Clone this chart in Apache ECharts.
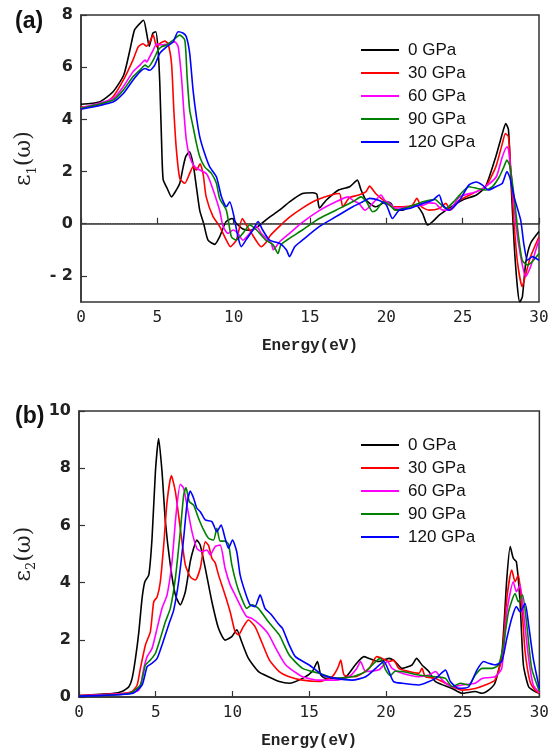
<!DOCTYPE html>
<html>
<head>
<meta charset="utf-8">
<script src="https://cdn.jsdelivr.net/npm/echarts@6/dist/echarts.min.js"></script>
<style>
  html, body { margin: 0; padding: 0; background: #fff; }
</style>
</head>
<body>
<div id="chart" style="width:552px;height:750px;"></div>
<script>
// series names / colours
var pressures = ['0 GPa', '30 GPa', '60 GPa', '90 GPa', '120 GPa'];
var colors = ['#000000', '#ff0000', '#ff00ff', '#008000', '#0000ff'];

var xTicks = [0, 5, 10, 15, 20, 25, 30];
var yTicksA = [-2, 0, 2, 4, 6, 8];
var yTicksB = [0, 2, 4, 6, 8, 10];

// (a) real part eps1, [energy eV, value]
var eps1_0 = [[0,4.58],[1.2,4.67],[2.1,5.06],[2.8,5.7],[3.2,6.65],[3.5,7.42],[3.8,7.64],[4.1,7.8],[4.3,7.3],[4.47,6.8],[4.7,7.3],[4.9,7.36],[5.05,6.65],[5.16,5.4],[5.27,3.3],[5.38,1.7],[5.65,1.35],[5.93,1.03],[6.25,1.3],[6.47,1.55],[6.7,2.2],[6.86,2.57],[7.1,2.76],[7.34,2.3],[7.56,1.4],[7.78,0.5],[8.04,0],[8.32,-0.63],[8.76,-0.79],[9.08,-0.5],[9.5,0.08],[9.9,0.2],[10.2,0.0],[10.6,-0.2],[11.1,-0.25],[11.6,-0.1],[12.1,0.14],[12.4,0.27],[13.0,0.52],[13.66,0.84],[14.5,1.16],[15.2,1.19],[15.45,1.13],[15.62,0.6],[16.06,0.9],[16.9,1.3],[17.6,1.42],[18.1,1.67],[18.34,1.3],[18.67,0.91],[19.3,0.65],[20.0,0.84],[20.3,0.78],[20.6,0.52],[21.07,0.52],[21.5,0.65],[21.94,0.71],[22.37,0.4],[22.7,-0.05],[23.03,0.08],[23.46,0.33],[24.1,0.59],[25.0,0.91],[25.9,1.1],[26.5,1.42],[27.17,2.57],[27.6,3.46],[27.82,3.84],[28.0,3.6],[28.15,1.8],[28.37,-0.75],[28.58,-2.4],[28.74,-3.0],[28.91,-2.8],[29.13,-1.5],[29.45,-0.75],[30,-0.3]];
var eps1_30 = [[0,4.47],[1.3,4.55],[2.1,4.87],[2.77,5.5],[3.4,6.27],[3.75,6.78],[4.07,6.9],[4.29,6.8],[4.5,6.97],[4.73,7.23],[4.95,6.78],[5.16,6.9],[5.49,7.0],[5.7,6.9],[5.93,6.14],[6.08,4.36],[6.25,2.82],[6.47,1.74],[6.8,1.55],[7.12,1.93],[7.34,2.18],[7.56,2.06],[7.8,2.3],[8.0,1.9],[8.2,1.03],[8.65,0.27],[9.08,-0.1],[9.52,-0.63],[9.78,-0.88],[10.17,-0.63],[10.57,0.2],[10.83,-0.05],[11.26,-0.45],[11.8,-0.88],[12.14,-0.7],[12.4,-0.45],[13.0,-0.1],[13.66,0.25],[14.5,0.6],[15.4,0.9],[16.5,1.12],[16.93,1.16],[17.15,0.65],[17.58,1.0],[18.2,1.1],[18.67,1.23],[18.9,1.44],[19.3,1.16],[19.8,0.9],[20.4,0.65],[21.07,0.65],[21.7,0.71],[22.0,0.97],[22.3,0.65],[22.8,0.52],[23.46,0.58],[23.9,0.78],[24.2,0.52],[24.8,0.9],[25.9,1.23],[26.5,1.42],[27.17,2.18],[27.6,3.08],[27.8,3.46],[28.0,3.33],[28.15,2.06],[28.37,0],[28.6,-1.52],[28.9,-2.41],[29.1,-2.0],[29.45,-1.26],[30,-0.5]];
var eps1_60 = [[0,4.44],[2.1,4.8],[2.77,5.25],[3.4,5.82],[3.86,6.08],[4.2,6.27],[4.3,6.2],[4.5,6.4],[4.73,6.65],[4.95,6.9],[5.16,6.85],[5.6,6.88],[6.14,6.97],[6.36,6.8],[6.58,5.63],[6.73,4.36],[6.9,3.2],[7.12,2.57],[7.45,2.18],[7.78,2.06],[8.2,1.93],[8.43,1.67],[9.08,0.52],[9.3,-0.1],[9.63,-0.37],[9.96,-0.24],[10.28,-0.37],[10.6,-0.63],[11.05,-0.37],[11.5,-0.1],[11.8,-0.37],[12.46,-0.75],[12.6,-1.0],[13.0,-0.7],[13.66,-0.37],[14.5,0.05],[15.6,0.5],[16.7,0.84],[17.5,1.03],[17.8,0.9],[18.2,0.78],[18.6,0.52],[18.9,0.65],[19.3,0.9],[19.65,1.1],[19.9,0.9],[20.2,0.78],[20.6,0.59],[21.5,0.65],[22.4,0.71],[22.8,0.8],[23.2,0.78],[23.7,0.52],[24.1,0.52],[24.8,1.03],[25.9,1.23],[26.5,1.42],[27.2,1.8],[27.6,2.57],[27.9,2.95],[28.0,2.85],[28.26,1.42],[28.5,-0.1],[28.8,-1.26],[29.13,-2.03],[29.45,-1.65],[30,-0.6]];
var eps1_90 = [[0,4.42],[2.1,4.74],[2.77,5.12],[3.4,5.63],[3.86,5.89],[4.2,6.08],[4.4,6.0],[4.73,6.27],[5.05,6.65],[5.27,6.78],[5.6,6.85],[6.04,7.04],[6.47,7.23],[6.8,7.04],[6.95,5.63],[7.12,4.36],[7.34,3.72],[7.56,3.08],[7.78,2.57],[8.1,2.18],[8.54,1.93],[8.87,1.55],[9.08,0.97],[9.52,0.52],[9.85,-0.5],[10.17,-0.63],[10.6,-0.37],[11.05,-0.05],[11.5,-0.24],[12.1,-0.63],[12.57,-0.8],[12.9,-1.14],[13.1,-0.8],[13.66,-0.56],[14.5,-0.24],[15.6,0.2],[16.7,0.52],[17.8,0.84],[18.34,1.03],[18.7,0.84],[19.1,0.46],[19.35,0.52],[19.8,0.84],[20.2,0.72],[20.6,0.52],[21.5,0.65],[22.4,0.84],[23.2,0.93],[23.5,0.78],[23.9,0.59],[24.5,0.9],[25.4,1.42],[25.9,1.36],[26.5,1.29],[26.95,1.42],[27.4,1.8],[27.7,2.18],[27.9,2.44],[28.1,2.2],[28.37,1.03],[28.66,-0.5],[28.9,-1.4],[29.24,-1.58],[29.56,-1.45],[30,-1.14]];
var eps1_120 = [[0,4.39],[2.1,4.67],[2.77,4.99],[3.4,5.5],[3.86,5.82],[4.2,5.95],[4.5,5.88],[4.83,6.08],[5.16,6.53],[5.6,6.78],[6.04,6.97],[6.36,7.36],[6.7,7.3],[6.9,7.17],[7.12,6.53],[7.34,5.12],[7.56,4.1],[7.78,3.33],[8.1,2.69],[8.43,2.18],[8.87,1.8],[9.2,1.03],[9.52,0.65],[9.74,0.84],[10.0,0.33],[10.28,-0.5],[10.5,-0.88],[10.8,-0.63],[11.26,-0.24],[11.6,0.08],[11.9,-0.24],[12.35,-0.63],[13.0,-0.75],[13.45,-1.0],[13.66,-1.26],[14.0,-0.88],[14.5,-0.63],[15.6,-0.11],[16.7,0.27],[17.8,0.65],[18.45,0.84],[18.9,0.97],[19.5,0.9],[20.0,0.72],[20.4,0.2],[20.85,0.52],[21.5,0.58],[22.4,0.78],[23.03,0.9],[23.46,1.1],[23.7,0.72],[24.1,0.52],[24.8,0.9],[25.4,1.48],[25.9,1.6],[26.3,1.48],[26.7,1.29],[27.17,1.42],[27.6,1.55],[27.9,2.0],[28.1,1.75],[28.37,1.03],[28.8,0.14],[29.0,-0.75],[29.24,-1.4],[29.56,-1.26],[30,-1.4]];

// (b) imaginary part eps2
var eps2_0 = [[0,0.05],[2.16,0.12],[2.8,0.19],[3.25,0.36],[3.46,0.65],[3.68,1.35],[3.9,2.28],[4.11,3.45],[4.29,4.03],[4.55,4.27],[4.76,5.55],[4.98,7.88],[5.19,9.04],[5.41,7.88],[5.63,6.13],[5.95,4.62],[6.28,3.57],[6.6,3.22],[6.93,3.68],[7.25,4.73],[7.47,5.2],[7.68,5.49],[7.9,5.31],[8.23,4.5],[8.66,3.33],[9.09,2.4],[9.52,1.99],[9.96,2.11],[10.28,2.35],[10.6,1.93],[11.04,1.35],[11.7,0.89],[12.34,0.71],[13.05,0.54],[13.7,0.48],[14.57,0.65],[15.2,0.89],[15.54,1.24],[15.75,0.77],[16.08,0.65],[16.73,0.65],[17.4,0.71],[18.0,1.12],[18.57,1.41],[18.9,1.35],[19.5,1.24],[20.2,1.35],[20.6,1.24],[21.06,1.0],[21.7,1.12],[22.0,1.35],[22.35,1.12],[22.8,0.89],[23.23,0.54],[24.31,0.3],[24.96,0.13],[25.82,0.19],[26.26,0.13],[26.69,0.24],[27.1,0.48],[27.55,1.47],[27.88,4.15],[28.1,5.26],[28.3,4.85],[28.5,4.73],[28.74,3.33],[28.96,1.12],[29.3,0.36],[29.72,0.19],[30,0.13]];
var eps2_30 = [[0,0.05],[2.8,0.12],[3.46,0.19],[3.79,0.42],[4.0,1.0],[4.33,1.82],[4.65,2.28],[4.87,3.33],[5.09,3.5],[5.3,4.03],[5.52,5.31],[5.74,6.83],[6.02,7.74],[6.28,7.18],[6.6,5.9],[6.93,4.62],[7.25,4.2],[7.58,4.09],[7.9,4.5],[8.23,5.43],[8.44,5.3],[8.66,4.85],[8.87,4.7],[9.09,4.27],[9.52,3.57],[9.85,2.98],[10.17,2.28],[10.39,2.17],[10.71,2.46],[11.04,2.69],[11.47,2.46],[11.9,1.93],[12.4,1.3],[13.05,0.89],[13.7,0.71],[14.57,0.59],[15.65,0.54],[16.5,0.71],[16.85,1.0],[17.06,1.29],[17.28,0.77],[18.0,0.71],[18.9,1.0],[19.4,1.41],[19.76,1.35],[20.2,1.24],[20.5,1.29],[20.84,1.0],[21.5,0.89],[22.14,0.83],[22.35,1.0],[22.57,0.71],[23.23,0.65],[23.66,0.54],[24.31,0.36],[24.96,0.24],[25.82,0.3],[26.47,0.42],[27.1,0.59],[27.55,1.35],[27.88,3.45],[28.2,4.44],[28.42,4.03],[28.63,4.27],[28.85,3.22],[29.07,1.59],[29.39,0.54],[29.72,0.24],[30,0.13]];
var eps2_60 = [[0,0.04],[3.03,0.12],[3.9,0.24],[4.22,1.0],[4.44,1.41],[4.76,1.7],[5.09,2.4],[5.41,3.1],[5.74,3.57],[6.06,4.73],[6.32,6.36],[6.6,7.44],[6.82,7.3],[7.03,6.71],[7.36,5.78],[7.68,5.2],[8.0,5.08],[8.33,5.14],[8.55,4.97],[8.87,5.26],[9.2,5.31],[9.52,4.5],[9.85,3.92],[10.17,3.57],[10.6,3.1],[10.93,2.81],[11.26,2.75],[11.8,2.52],[12.34,2.2],[12.83,1.7],[13.48,1.12],[14.57,0.71],[15.65,0.59],[16.73,0.59],[17.6,0.71],[18.1,1.0],[18.35,1.24],[18.68,0.89],[19.55,0.95],[20.1,1.24],[20.4,1.0],[21.06,0.83],[22.14,0.71],[22.8,0.77],[23.23,0.89],[23.66,0.6],[24.31,0.36],[24.96,0.42],[25.82,0.48],[26.26,0.65],[27.1,0.71],[27.55,1.0],[27.88,2.98],[28.3,4.03],[28.5,3.68],[28.74,3.92],[28.96,2.98],[29.3,1.35],[29.6,0.42],[30,0.15]];
var eps2_90 = [[0,0.03],[3.25,0.12],[4.0,0.42],[4.33,1.12],[4.65,1.29],[4.98,1.53],[5.3,2.05],[5.63,2.63],[5.95,3.1],[6.28,4.15],[6.6,5.78],[6.82,7.06],[6.97,7.32],[7.19,6.83],[7.47,6.71],[7.79,6.25],[8.12,5.84],[8.44,5.55],[8.77,5.49],[8.98,5.9],[9.2,5.45],[9.52,5.45],[9.74,5.35],[9.96,4.62],[10.28,3.92],[10.6,3.45],[10.93,3.1],[11.26,3.22],[11.69,3.1],[12.34,2.63],[13.05,2.17],[13.7,1.47],[14.57,1.0],[15.65,0.83],[16.73,0.65],[17.81,0.71],[18.68,0.89],[19.33,1.24],[19.65,1.35],[19.98,0.95],[20.3,0.75],[20.6,0.9],[21.06,0.89],[22.14,0.77],[23.23,0.71],[23.88,0.65],[24.31,0.36],[24.85,0.48],[25.4,0.42],[25.82,0.77],[26.26,1.0],[26.9,1.0],[27.34,1.12],[27.66,1.82],[27.99,2.98],[28.42,3.62],[28.63,3.33],[28.9,3.57],[29.18,2.52],[29.5,1.0],[30,0.2]];
var eps2_120 = [[0,0.03],[3.46,0.12],[4.11,0.42],[4.44,1.06],[4.76,1.18],[5.09,1.35],[5.41,1.82],[5.84,2.52],[6.17,3.04],[6.49,4.03],[6.82,5.55],[7.03,6.71],[7.25,7.2],[7.47,6.95],[7.68,6.6],[7.9,6.48],[8.23,6.19],[8.66,6.13],[8.98,5.78],[9.26,6.01],[9.52,5.55],[9.74,5.2],[10.0,5.49],[10.28,5.08],[10.5,4.27],[10.82,3.68],[11.15,3.22],[11.47,3.16],[11.8,3.57],[12.12,3.1],[12.55,2.87],[13.0,2.55],[13.26,2.4],[13.7,1.82],[14.1,1.41],[15.0,1.12],[15.87,0.77],[16.73,0.65],[17.81,0.59],[18.68,0.71],[19.33,1.0],[19.87,1.24],[20.2,0.89],[20.5,0.54],[21.06,0.48],[22.14,0.42],[23.23,0.65],[23.88,0.94],[24.2,0.54],[24.74,0.3],[25.4,0.36],[25.93,0.94],[26.37,1.24],[26.69,1.18],[27.1,1.12],[27.55,1.24],[27.88,2.05],[28.2,2.75],[28.5,3.16],[28.74,2.98],[29.07,3.27],[29.3,2.52],[29.6,1.35],[30,0.3]];

var eps1 = [eps1_0, eps1_30, eps1_60, eps1_90, eps1_120];
var eps2 = [eps2_0, eps2_30, eps2_60, eps2_90, eps2_120];

var myChart = echarts.init(document.getElementById('chart'));

function xAxisOf(idx) {
  return {
    type: 'value', gridIndex: idx, min: 0, max: 30, interval: 5,
    name: 'Energy(eV)', nameLocation: 'middle', nameGap: 36,
    nameTextStyle: { fontFamily: 'Liberation Mono', fontWeight: 'bold', fontSize: 16, color: '#222' },
    axisLine: { show: true, lineStyle: { color: '#333', width: 1.5 } },
    axisTick: { show: true, inside: true, length: 6, lineStyle: { color: '#333', width: 1.2 } },
    axisLabel: { margin: 8, fontFamily: 'DejaVu Sans Mono', fontSize: 16, color: '#222' },
    splitLine: { show: false }
  };
}

function yAxisOf(idx, min, max, ticks, rich) {
  return {
    type: 'value', gridIndex: idx, min: min, max: max,
    name: rich, nameLocation: 'middle', nameGap: 40, nameRotate: 90,
    nameTextStyle: {
      color: '#222',
      rich: {
        e: { fontFamily: 'DejaVu Serif', fontSize: 22, lineHeight: 28, color: '#222' },
        s: { fontFamily: 'DejaVu Serif', fontSize: 13, lineHeight: 28, verticalAlign: 'bottom', color: '#222' }
      }
    },
    axisLine: { show: true, lineStyle: { color: '#333', width: 1.5 } },
    axisTick: { show: true, inside: true, length: 6, customValues: ticks, lineStyle: { color: '#333', width: 1.2 } },
    axisLabel: {
      margin: 8, fontFamily: 'DejaVu Sans', fontWeight: 'bold', fontSize: 16, color: '#222',
      customValues: ticks,
      formatter: function (v) { return v < 0 ? '- ' + Math.abs(v) : String(v); }
    },
    splitLine: { show: false }
  };
}

var series = [];
pressures.forEach(function (p, i) {
  var s = {
    name: p, type: 'line', xAxisIndex: 0, yAxisIndex: 0,
    data: eps1[i], symbol: 'none', smooth: 0.2,
    lineStyle: { color: colors[i], width: 1.6 }, itemStyle: { color: colors[i] }
  };
  if (i === 0) {
    // zero reference line
    s.markLine = {
      silent: true, symbol: 'none', label: { show: false },
      lineStyle: { type: 'dotted', color: '#444', width: 1.2 },
      data: [{ yAxis: 0 }]
    };
  }
  series.push(s);
});
pressures.forEach(function (p, i) {
  series.push({
    name: p, type: 'line', xAxisIndex: 1, yAxisIndex: 1,
    data: eps2[i], symbol: 'none', smooth: 0.2,
    lineStyle: { color: colors[i], width: 1.6 }, itemStyle: { color: colors[i] }
  });
});

var legendBase = {
  orient: 'vertical', left: 356, icon: 'rect', itemWidth: 38, itemHeight: 2, itemGap: 5,
  data: pressures,
  textStyle: { fontFamily: 'Liberation Sans', fontSize: 17, lineHeight: 18, color: '#111', padding: [0, 0, 0, 4] }
};

myChart.setOption({
  animation: false,
  backgroundColor: '#fff',
  title: [
    { text: '(a)', left: 10, top: 5, textStyle: { fontFamily: 'Liberation Sans', fontWeight: 'bold', fontSize: 23, color: '#111' } },
    { text: '(b)', left: 10, top: 400, textStyle: { fontFamily: 'Liberation Sans', fontWeight: 'bold', fontSize: 23, color: '#111' } }
  ],
  legend: [
    Object.assign({}, legendBase, { top: 36 }),
    Object.assign({}, legendBase, { top: 431 })
  ],
  grid: [
    { left: 81, top: 15, width: 458, height: 287, show: true, borderColor: '#333', borderWidth: 1.5 },
    { left: 79, top: 411, width: 462, height: 286, show: true, borderColor: '#333', borderWidth: 1.5 }
  ],
  xAxis: [xAxisOf(0), xAxisOf(1)],
  yAxis: [
    yAxisOf(0, -3, 8, yTicksA, '{e|ε}{s|1}{e|(ω)}'),
    yAxisOf(1, 0, 10, yTicksB, '{e|ε}{s|2}{e|(ω)}')
  ],
  series: series
});
</script>
</body>
</html>
